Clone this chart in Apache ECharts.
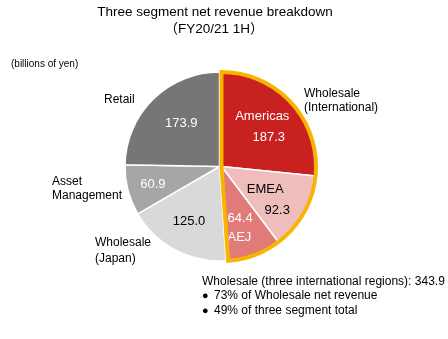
<!DOCTYPE html>
<html>
<head>
<meta charset="utf-8">
<script src="https://cdn.jsdelivr.net/npm/echarts@6/dist/echarts.min.js"></script>
<style>
  html, body { margin: 0; padding: 0; background: #fff; }
  #chart { width: 448px; height: 339px; }
</style>
</head>
<body>
<div id="chart"></div>
<script>
// Net revenue, billions of yen (FY20/21 1H)
const intlNames = ['Americas', 'EMEA', 'AEJ'];
const intlValues = [187.3, 92.3, 64.4];
const intlReportedTotal = 343.9;
const domesticNames = ['Wholesale (Japan)', 'Asset Management', 'Retail'];
const domesticValues = [125.0, 60.9, 173.9];
const shareOfWholesale = 73;   // % of Wholesale net revenue
const shareOfTotal = 49;       // % of three segment total

const intlColors = ['#c8211f', '#f0bdbd', '#e07b79'];
const domesticColors = ['#d9d9d9', '#a6a6a6', '#767676'];

const FONT = '"Liberation Sans", Arial, "DejaVu Sans", "Noto Sans CJK JP", sans-serif';
const sum = a => a.reduce((s, v) => s + v, 0);
const intlTotal = sum(intlValues);
const domTotal = sum(domesticValues);

const R = 94.5;
const centerDom = [219.5, 166.5];
const centerIntl = [221.5, 166.5];

// label nudges from the default inside position
const intlNudge = [[3.5, -6], [0, 9], [1, 14]];
const domNudge = [[-7, 11], [-18, 5], [-3, -7]];

const gap = { color: 'rgba(0,0,0,0)', borderWidth: 0 };

const intlData = intlValues.map((v, i) => ({
  name: intlNames[i], value: v,
  itemStyle: { color: intlColors[i] }
}));
intlData.push({ name: 'domestic', value: domTotal, itemStyle: gap, label: { show: false } });

const domData = [{ name: 'international', value: intlTotal, itemStyle: gap, label: { show: false } }]
  .concat(domesticValues.map((v, i) => ({
    name: domesticNames[i], value: v,
    itemStyle: { color: domesticColors[i] },
    label: { color: i === 0 ? '#000' : '#fff' }
  })));

const intlLabel = {
  show: true, position: 'inside', fontFamily: FONT,
  formatter: p => {
    const v = p.value.toFixed(1);
    if (p.dataIndex === 0) return '{w|Americas}\n{wr1|' + v + '}';
    if (p.dataIndex === 1) return '{k|EMEA}\n{kr|' + v + '}';
    return '{wl|' + v + '}\n{wl|AEJ}';
  },
  rich: {
    w: { color: '#fff', fontSize: 13, fontFamily: FONT, lineHeight: 21 },
    wr1: { color: '#fff', fontSize: 13, fontFamily: FONT, lineHeight: 21, padding: [0, 0, 0, 13] },
    wl: { color: '#fff', fontSize: 13, fontFamily: FONT, lineHeight: 19, align: 'left' },
    k: { color: '#000', fontSize: 13, fontFamily: FONT, lineHeight: 21 },
    kr: { color: '#000', fontSize: 13, fontFamily: FONT, lineHeight: 21, padding: [0, 0, 0, 24] }
  }
};

const domLabel = {
  show: true, position: 'inside', fontFamily: FONT, fontSize: 13,
  formatter: p => p.value.toFixed(1)
};

const chart = echarts.init(document.getElementById('chart'), null, { renderer: 'canvas' });

const txt = (x, y, text, opts) => ({
  type: 'text', x, y, silent: true,
  style: Object.assign({ text, fill: '#000', font: '12px ' + FONT, textVerticalAlign: 'middle' }, opts || {})
});

chart.setOption({
  animation: false,
  backgroundColor: '#fff',
  series: [
    {
      type: 'pie', center: centerDom, radius: R, startAngle: 90, clockwise: true,
      silent: true, avoidLabelOverlap: false,
      itemStyle: { borderColor: '#fff', borderWidth: 1.5 },
      label: domLabel, labelLine: { show: false },
      labelLayout: p => {
        const n = domNudge[p.dataIndex - 1] || [0, 0];
        return { dx: n[0], dy: n[1] };
      },
      data: domData
    },
    {
      type: 'pie', center: centerIntl, radius: R, startAngle: 90, clockwise: true,
      silent: true, avoidLabelOverlap: false,
      itemStyle: { borderColor: '#fff', borderWidth: 1.5 },
      label: intlLabel, labelLine: { show: false },
      labelLayout: p => {
        const n = intlNudge[p.dataIndex] || [0, 0];
        return { dx: n[0], dy: n[1] };
      },
      data: intlData
    },
    {
      // outline around the three international Wholesale regions
      type: 'pie', center: centerIntl, radius: R, startAngle: 90, clockwise: true,
      silent: true, z: 5, label: { show: false }, labelLine: { show: false },
      data: [
        { value: intlTotal, itemStyle: { color: 'rgba(0,0,0,0)', borderColor: '#f8b500', borderWidth: 4, borderJoin: 'miter' } },
        { value: domTotal, itemStyle: gap }
      ]
    }
  ],
  graphic: [
    txt(215, 12, 'Three segment net revenue breakdown', { font: '13.5px ' + FONT, textAlign: 'center' }),
    txt(214, 29, '（FY20/21 1H）', { font: '13.5px ' + FONT, textAlign: 'center' }),
    txt(11, 64, '(billions of yen)', { font: '10px ' + FONT }),
    txt(104, 100, 'Retail'),
    txt(52, 182, 'Asset'),
    txt(52, 196, 'Management'),
    txt(95, 243, 'Wholesale'),
    txt(95, 259, '(Japan)'),
    txt(304, 94, 'Wholesale'),
    txt(304, 108, '(International)'),
    txt(202, 282, 'Wholesale (three international regions): ' + intlReportedTotal.toFixed(1)),
    txt(202, 296, '●', { font: '11px ' + FONT }),
    txt(214, 296, shareOfWholesale + '% of Wholesale net revenue'),
    txt(202, 311, '●', { font: '11px ' + FONT }),
    txt(214, 311, shareOfTotal + '% of three segment total')
  ]
});
</script>
</body>
</html>
